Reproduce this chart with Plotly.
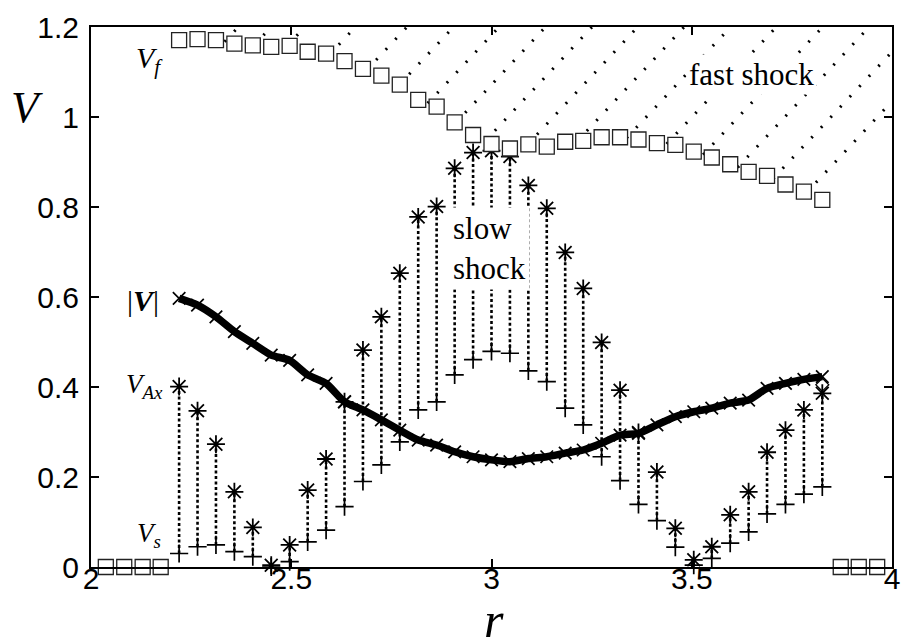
import plotly.graph_objects as go

# ---------------- data ----------------
r = [2.037, 2.083, 2.129, 2.174, 2.220, 2.266, 2.312, 2.358, 2.404, 2.450,
     2.496, 2.541, 2.587, 2.633, 2.679, 2.725, 2.771, 2.817, 2.863, 2.908,
     2.954, 3.000, 3.046, 3.092, 3.138, 3.184, 3.229, 3.275, 3.321, 3.367,
     3.413, 3.459, 3.505, 3.550, 3.596, 3.642, 3.688, 3.734, 3.780, 3.826,
     3.872, 3.917, 3.963]

# fast speed (squares); zero outside the flow region
Vf = [0, 0, 0, 0,
      1.171, 1.173, 1.171, 1.163, 1.159, 1.156, 1.158, 1.145, 1.141, 1.124,
      1.107, 1.092, 1.072, 1.038, 1.023, 0.988, 0.960, 0.940, 0.930, 0.939,
      0.934, 0.945, 0.947, 0.955, 0.955, 0.950, 0.942, 0.938, 0.923, 0.910,
      0.895, 0.878, 0.869, 0.850, 0.834, 0.816,
      0, 0, 0]

# flow region (indices 4..39)
r_in = r[4:40]

VAx = [0.401, 0.347, 0.273, 0.167, 0.088, 0.004, 0.049, 0.171, 0.240, 0.367,
       0.482, 0.556, 0.653, 0.778, 0.801, 0.886, 0.921, 0.925, 0.912, 0.848,
       0.797, 0.699, 0.619, 0.499, 0.393, 0.299, 0.211, 0.086, 0.016, 0.045,
       0.116, 0.167, 0.255, 0.304, 0.349, 0.386]

Vs = [0.030, 0.045, 0.049, 0.034, 0.023, 0.000, 0.012, 0.056, 0.082, 0.134,
      0.190, 0.227, 0.278, 0.349, 0.367, 0.427, 0.461, 0.479, 0.475, 0.436,
      0.412, 0.353, 0.316, 0.245, 0.192, 0.139, 0.103, 0.044, 0.004, 0.019,
      0.053, 0.078, 0.118, 0.139, 0.162, 0.178]

Vabs = [0.597, 0.582, 0.556, 0.523, 0.497, 0.471, 0.459, 0.427, 0.408, 0.367,
        0.349, 0.327, 0.304, 0.282, 0.271, 0.256, 0.245, 0.238, 0.234, 0.241,
        0.245, 0.253, 0.260, 0.275, 0.293, 0.297, 0.316, 0.334, 0.345, 0.353,
        0.364, 0.371, 0.397, 0.408, 0.417, 0.423]

diamond_r = [3.826]
diamond_v = [0.405]

# hatch lines of the "fast shock" region: r where each line meets V = 1.2
hatch_top = [2.368, 2.450, 2.534, 2.660, 2.789, 2.905, 3.019, 3.135, 3.251,
             3.365, 3.481, 3.597, 3.711, 3.827, 3.943, 4.058, 4.174]
hatch_slope = 0.95

x_ticks = [2, 2.5, 3, 3.5, 4]
x_tick_text = ["2", "2.5", "3", "3.5", "4"]
y_ticks = [0, 0.2, 0.4, 0.6, 0.8, 1.0, 1.2]
y_tick_text = ["0", "0.2", "0.4", "0.6", "0.8", "1", "1.2"]

XMIN, XMAX, YMIN, YMAX = 2, 4, 0, 1.2

# ---------------- hatch geometry ----------------
vf_in = Vf[4:40]
hx, hy = [], []
for rt in hatch_top:
    line = lambda x: YMAX - hatch_slope * (rt - x)
    start = None
    for j in range(len(r_in) - 2, -1, -1):
        a, b = r_in[j], r_in[j + 1]
        if a > rt:
            continue
        fa = line(a) - vf_in[j]
        fb = line(b) - vf_in[j + 1]
        if fa <= 0 < fb or fb <= 0 < fa:
            t = fa / (fa - fb)
            xs = a + t * (b - a)
            start = (xs, line(xs))
            break
    if start is None:
        continue
    if rt > XMAX:
        end = (XMAX, line(XMAX))
    else:
        end = (rt, YMAX)
    hx += [start[0], end[0], None]
    hy += [start[1], end[1], None]

# vertical connectors Vs -> VAx
vx, vy = [], []
for x0, a, b in zip(r_in, Vs, VAx):
    vx += [x0, x0, None]
    vy += [a, b, None]

fig = go.Figure()

fig.add_trace(go.Scatter(x=hx, y=hy, mode="lines",
                         line=dict(color="black", width=3, dash="2px,12px"),
                         hoverinfo="skip", showlegend=False))

fig.add_trace(go.Scatter(x=vx, y=vy, mode="lines",
                         line=dict(color="black", width=2.6, dash="3px,2.5px"),
                         hoverinfo="skip", showlegend=False))

fig.add_trace(go.Scatter(x=r_in, y=VAx, mode="markers", cliponaxis=False,
                         marker=dict(symbol="asterisk-open", size=15,
                                     color="black", line=dict(color="black", width=1.8)),
                         showlegend=False))

fig.add_trace(go.Scatter(x=r_in, y=Vs, mode="markers", cliponaxis=False,
                         marker=dict(symbol="cross-thin-open", size=13,
                                     color="black", line=dict(color="black", width=1.7)),
                         showlegend=False))

fig.add_trace(go.Scatter(x=r_in, y=Vabs, mode="lines+markers",
                         line=dict(color="black", width=7.5, shape="spline", smoothing=0.6),
                         marker=dict(symbol="x-thin-open", size=12.5,
                                     color="black", line=dict(color="black", width=1.7)),
                         showlegend=False))

fig.add_trace(go.Scatter(x=diamond_r, y=diamond_v, mode="markers",
                         marker=dict(symbol="diamond-open", size=10,
                                     color="black", line=dict(color="black", width=1.2)),
                         showlegend=False))

fig.add_trace(go.Scatter(x=r, y=Vf, mode="markers", cliponaxis=False,
                         marker=dict(symbol="square", size=15, color="white",
                                     line=dict(color="#222", width=1.3)),
                         showlegend=False))

serif = "Liberation Serif, Times New Roman, serif"
ann = []
def lab(text, x, y, size=30, **kw):
    d = dict(text=text, x=x, y=y, xref="x", yref="y", showarrow=False,
             xanchor="center", yanchor="middle",
             font=dict(family=serif, size=size, color="black"))
    d.update(kw)
    ann.append(d)

lab("<i>V<sub>f</sub></i>", 2.146, 1.127)
lab("|<b><i>V</i></b>|", 2.131, 0.593)
lab("<i>V<sub>Ax</sub></i>", 2.133, 0.402, size=27)
lab("<i>V<sub>s</sub></i>", 2.146, 0.071, size=27)
lab("fast shock", 3.648, 1.095, size=31, bgcolor="white", borderpad=2)
lab("slow<br>shock", 2.895, 0.708, size=31, xanchor="left", align="left",
    bgcolor="white", borderpad=3)

ann.append(dict(text="<i>V</i>", x=-0.080, y=0.852, xref="paper", yref="paper",
                xanchor="center", yanchor="middle", showarrow=False,
                font=dict(family=serif, size=45, color="black")))
ann.append(dict(text="<i>r</i>", x=0.503, y=-0.098, xref="paper", yref="paper",
                xanchor="center", yanchor="middle", showarrow=False,
                font=dict(family=serif, size=50, color="black")))

axis_common = dict(showline=True, linecolor="black", linewidth=2, mirror="ticks",
                   ticks="inside", ticklen=8, tickwidth=1.5, tickcolor="black",
                   showgrid=False, zeroline=False,
                   tickfont=dict(family="Liberation Sans, Arial, sans-serif",
                                 size=30, color="black"))

fig.update_layout(
    width=910, height=643,
    margin=dict(l=91, r=10, t=27, b=76),
    paper_bgcolor="white", plot_bgcolor="white",
    xaxis=dict(range=[XMIN, XMAX], tickvals=x_ticks, ticktext=x_tick_text,
               ticklabelstandoff=-16, **axis_common),
    yaxis=dict(range=[YMIN, YMAX], tickvals=y_ticks, ticktext=y_tick_text,
               ticklabelstandoff=4, **axis_common),
    annotations=ann,
)

fig.write_html("out.html")
